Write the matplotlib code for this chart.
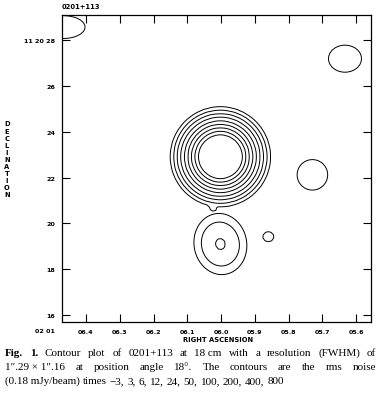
import numpy as np
import matplotlib
matplotlib.use("Agg")
import matplotlib.pyplot as plt

# -------------------------------------------------------------
# Data (RA in seconds of 02h01m,
# Dec in arcsec of +11d20m). Contours in units of the rms noise.
# -------------------------------------------------------------
rms_levels = [-3, 3, 6, 12, 24, 50, 100, 200, 400, 800]

# bright core: steep profile peak * exp(-r / scale)
core_ra = 6.002
core_dec = 22.91
core_peak = 60000.0
core_scale = 0.22          # arcsec

# weaker gaussian components
comp_ra = [6.002, 6.023, 5.860, 5.7295, 5.633, 6.468]
comp_dec = [19.10, 20.66, 19.42, 22.12, 27.19, 28.57]
comp_peak = [12.6, 3.6, 4.0, 4.0, 4.0, 4.0]
comp_sx = [0.676, 0.30, 0.32, 0.88, 0.95, 1.27]   # arcsec
comp_sy = [0.79, 0.17, 0.29, 0.88, 0.78, 0.66]    # arcsec
comp_pa = [10, 0, 0, 0, 0, 0]                     # deg

ra_ticks = [6.4, 6.3, 6.2, 6.1, 6.0, 5.9, 5.8, 5.7, 5.6]
ra_labels = ["06.4", "06.3", "06.2", "06.1", "06.0", "05.9", "05.8", "05.7", "05.6"]
dec_ticks = [16, 18, 20, 22, 24, 26, 28]
dec_labels = ["16", "18", "20", "22", "24", "26", "11 20 28"]

caption = [
    ["Fig.", "1.", "Contour", "plot", "of", "0201+113", "at", "18 cm", "with", "a",
     "resolution", "(FWHM)", "of"],
    ["1\u2033.29 \u00d7 1\u2033.16", "at", "position", "angle", "18\u00b0.", "The",
     "contours", "are", "the", "rms", "noise"],
    ["(0.18 mJy/beam)", "times", "\u22123,", "3,", "6,", "12,", "24,", "50,", "100,",
     "200,", "400,", "800"],
]

W, H = 382, 402
SERIF = ["Liberation Serif", "DejaVu Serif"]


def build_field(ra, dec):
    """Model map: each component kept separate (max), as on the plate."""
    kx = 15.0 * np.cos(np.radians(11.34))   # arcsec per second of RA
    u = (core_ra - ra) * kx
    v = dec - core_dec
    field = core_peak * np.exp(-np.hypot(u, v) / core_scale)
    for r0, d0, a, sx, sy, pa in zip(comp_ra, comp_dec, comp_peak, comp_sx, comp_sy, comp_pa):
        u = (r0 - ra) * kx
        v = dec - d0
        phi = np.radians(pa)
        up = u * np.cos(phi) + v * np.sin(phi)
        vp = -u * np.sin(phi) + v * np.cos(phi)
        field = np.maximum(field, a * np.exp(-0.5 * ((up / sx) ** 2 + (vp / sy) ** 2)))
    return field


def justify(fig, renderer, words, ybase, x0, x1, size, stretch=True, bold_n=0):
    """Place words on one line, spread from x0 to x1 (pixels)."""
    items = []
    for i, w in enumerate(words):
        t = fig.text(0, 1 - ybase / H, w, fontsize=size, family=SERIF,
                     weight="bold" if i < bold_n else "normal", va="baseline")
        items.append(t)
    widths = [t.get_window_extent(renderer).width for t in items]
    if stretch:
        gap = (x1 - x0 - sum(widths)) / (len(words) - 1)
    else:
        gap = size * 100 / 72 * 0.27
    x = x0
    for t, wd in zip(items, widths):
        t.set_x(x / W)
        x += wd + gap


def main():
    ra = np.arange(5.45, 6.56, 0.0082)
    dec = np.arange(15.3, 29.7, 0.12)
    RA, DEC = np.meshgrid(ra, dec)
    Z = build_field(RA, DEC)

    fig = plt.figure(figsize=(W / 100, H / 100), dpi=100)
    ax = fig.add_axes([62 / W, 1 - 322.7 / H, 309 / W, 307 / H])

    ax.contour(RA, DEC, Z, levels=rms_levels, colors="k", linewidths=0.7)

    ax.set_xlim(6.471, 5.556)
    ax.set_ylim(15.71, 29.11)
    ax.set_xticks(ra_ticks)
    ax.set_xticklabels(ra_labels)
    ax.set_yticks(dec_ticks)
    ax.set_yticklabels(dec_labels)
    ax.tick_params(direction="in", length=6, width=0.8, top=True, right=True,
                   labelsize=4.6, pad=5)
    for lab in ax.get_xticklabels() + ax.get_yticklabels():
        lab.set_fontweight("bold")
    for sp in ax.spines.values():
        sp.set_linewidth(0.9)

    fig.text(45 / W, 1 - 332 / H, "02 01", fontsize=4.6, weight="bold",
             ha="center", va="center")
    fig.text(218 / W, 1 - 340 / H, "RIGHT ASCENSION", fontsize=4.9, weight="bold",
             ha="center", va="center")
    fig.text(7 / W, 1 - 160 / H, "\n".join("DECLINATION"), fontsize=4.9,
             weight="bold", ha="center", va="center", linespacing=1.22)
    fig.text(62 / W, 1 - 7 / H, "0201+113", fontsize=4.9, weight="bold",
             ha="left", va="center")

    renderer = fig.canvas.get_renderer()
    size = 8.0
    justify(fig, renderer, caption[0], 356, 5, 376, size, bold_n=2)
    justify(fig, renderer, caption[1], 370, 5, 376, size)
    justify(fig, renderer, caption[2], 384, 5, 376, size, stretch=False)

    fig.savefig("out.png", dpi=100)
    plt.close(fig)


if __name__ == "__main__":
    main()
